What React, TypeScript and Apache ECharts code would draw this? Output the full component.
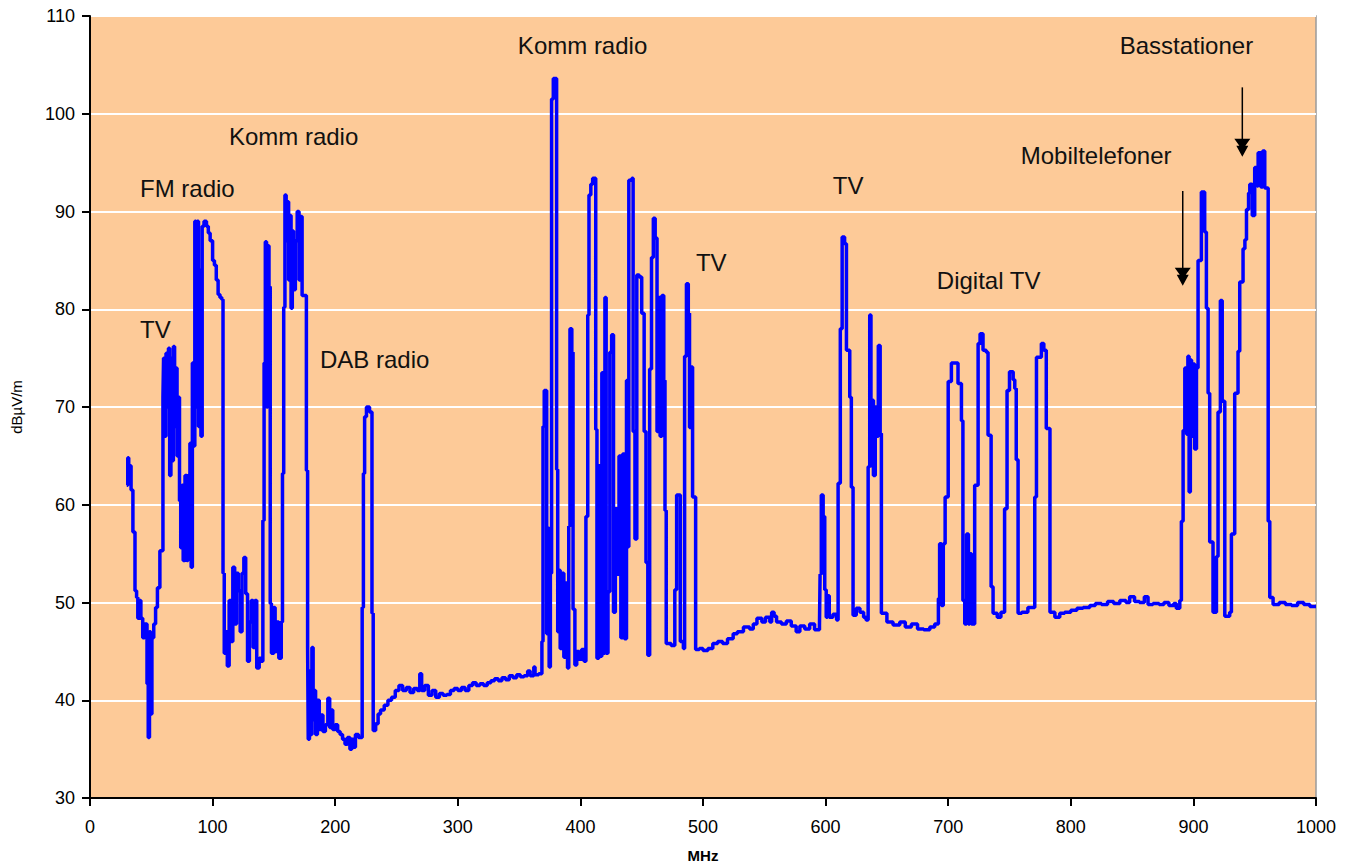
import React, { useEffect, useRef } from "react";
import * as echarts from "echarts";

// Frequency (MHz) / field strength (dBµV/m) pairs, by band
const vhfLow: [number, number][] = [
  [30, 62], [30.8, 64.8], [31.6, 63], [32.5, 64], [33.5, 61.5], [35, 57.2], [36.7, 51.2], [38, 50.5],
  [39, 48.4], [40.5, 50.2], [41.5, 48.4], [43, 46.4], [44.5, 47.8], [45.7, 47.8], [46.5, 41.7],
  [47.5, 36.2], [48.5, 47], [49.5, 38.6], [50.5, 46.4], [52, 47.8], [53.5, 49.5], [55, 51.5],
  [57, 55.3], [58.5, 55.3], [59.5, 71], [60, 75], [61, 67], [62, 75.5], [63, 70], [64, 76], [65, 63],
  [66, 75], [67, 64.5], [68, 76.2], [69, 68], [70, 74], [71, 65], [72, 71], [73, 60.4], [74, 55.6],
  [75, 62], [76, 54.3], [77.5, 63], [79, 54.3], [80, 63], [81.5, 66.3], [82.5, 53.6], [83.5, 74.5],
  [84.5, 66], [85.5, 89], [86.5, 70], [87.5, 89], [88.5, 68], [89.5, 84], [90.5, 67], [91.5, 88.5],
  [93, 89], [95, 88.5], [96.5, 87.8], [98, 87], [100, 85], [101.5, 84.5], [103, 83], [104.5, 81.5],
  [106, 81.2], [107.5, 81], [108.5, 53], [109.5, 44.8], [111, 47], [112, 43.5], [113.5, 50.2],
  [115, 46], [116.5, 53.6], [118, 47.8], [119.5, 53], [121, 51.2], [122.5, 47], [124, 53],
  [125.5, 54.6], [127, 50.9], [128.5, 44], [130, 48], [131.5, 50.2], [133, 45.4], [134.5, 50.2],
  [136, 43.3], [138, 44.3], [140, 44], [141, 58.4], [142, 74.5], [143, 86.9], [144, 70], [145, 86.5],
  [146, 82.3], [147, 49.9], [148, 44.8], [150, 49.5], [151, 45], [152.5, 48], [154, 44.3], [156, 48],
  [157, 63.2], [158, 80.2], [159, 91.7], [160, 87], [161, 91], [162, 83], [163, 89.6], [164, 80.1],
  [165, 88], [166, 82], [167.5, 87], [169, 90], [170.5, 83], [172, 89.5], [173, 81.4], [175, 81.4],
  [176.5, 63.5], [177.5, 45.4],
];

const dabBand: [number, number][] = [
  [178, 36], [179, 43], [180, 36.5], [181, 45.4], [182, 38], [183, 41], [184, 36.5], [185.5, 40],
  [187, 37], [188.5, 38.5], [190, 36.8], [192, 37.5], [194, 40.2], [195.5, 37.2], [197, 39], [198, 37],
  [200, 37.5], [202, 36.8], [204, 36.5], [206, 36], [208, 35.5], [210, 36.2], [212, 35], [213.5, 36],
  [215, 35.2], [216.5, 36.5], [219, 36.2], [222, 49.5], [223, 63.2], [224, 69], [225.5, 70],
  [228, 69.5], [230, 48.9], [231, 36.9], [233, 37.6], [235, 38.6], [237, 39], [240, 39.5], [243, 40],
  [246, 40.3], [249, 41], [252, 41.5], [255, 41], [258, 41.3], [261, 40.8], [264, 41.2], [267, 41],
  [269, 42.7], [270.5, 41], [273, 41.5], [276, 40.5], [279, 41], [282, 40.3], [285, 40.7], [288, 40.5],
  [291, 40.6], [294, 41], [297, 41.2], [300, 41], [303, 41.3], [306, 41], [309, 41.5], [312, 41.8],
  [315, 41.5], [318, 41.7], [321, 41.5], [324, 41.8], [327, 42], [330, 42.2], [333, 42], [336, 42.3],
  [339, 42.1], [342, 42.5], [345, 42.3], [348, 42.6], [351, 42.4], [354, 42.5], [357, 43], [359, 42.5],
  [362, 43.4], [363, 42.6], [366, 42.7],
];

const kommBand: [number, number][] = [
  [368.6, 46], [369.5, 68], [370.5, 71.7], [372.5, 46.8], [373.5, 57.6], [374.5, 43.4], [375.5, 53],
  [376.5, 101.5], [377.9, 103.6], [380.6, 63.6], [381.5, 47], [382.5, 53.3], [383.5, 45.3], [385, 53],
  [386.5, 44.4], [388, 52], [389.5, 43.3], [390.5, 57.8], [391.5, 78], [393, 75.6], [394, 49.3],
  [395.5, 43.6], [397, 45], [399, 44.2], [401, 45.2], [403, 44], [404.5, 58.8], [406, 79.4],
  [407, 91.7], [408.5, 92.8], [410, 93.4], [412.5, 67.7], [413.5, 44.3], [415, 64], [416, 44.5],
  [417.5, 73.5], [419, 44.8], [420, 81.2], [421, 44.8], [422.5, 51.1], [424, 75.6], [425.5, 77.4],
  [427, 49], [428.5, 59.6], [430, 52.9], [431.5, 65], [433, 46.4], [434.5, 65.2], [436, 46.3],
  [437.6, 72.7], [438.5, 55.7], [439.5, 93.2], [442, 93.4], [443, 67.5], [444.5, 56.5], [446, 83.5],
  [448, 83.3], [450, 79.6], [452, 67.5], [453.5, 54.1], [455, 44.6], [456.5, 73.9], [458, 85.3],
  [459.5, 89.3], [461, 87.3], [462.5, 67.5], [463.5, 81.2], [465, 67], [466.5, 81.4], [468, 72.7],
  [469, 59.4], [470, 45.8], [474, 45.6], [477, 51.3], [478.5, 61], [480, 61], [481.5, 46], [484, 45.3],
  [485, 75.2], [486.5, 82.6], [488, 79.6], [489, 67.9], [490, 74.1], [491.5, 60.8], [494, 45.2],
];

const uhfBand: [number, number][] = [
  [497, 45.3], [500, 45.1], [504, 45.3], [508, 45.8], [512, 46], [516, 45.8], [520, 46.3], [524.6, 46.8],
  [528, 47], [533, 47.5], [538, 47.3], [541, 47.8], [544, 48.4], [548, 48], [551, 48.5], [554.5, 48],
  [556, 49], [558, 48.6], [560, 48], [564, 47.8], [568, 48.1], [572, 47.6], [576, 47], [579, 47.6],
  [583, 47.3], [587, 47.8], [591, 47.2], [595, 47.6], [595.5, 52.9], [596.5, 61], [598, 58.8],
  [599.3, 51.3], [600.5, 48.5], [601.5, 50.7], [603, 48.5], [606, 48.8], [609, 48.2], [610.2, 62.2],
  [612, 78], [613.5, 87.4], [615.5, 86.7], [617, 75.8], [619.7, 71], [621, 61.8], [622.4, 48.7],
  [625, 49.4], [628, 49], [631, 48.5], [633, 48.2], [634.7, 63.9], [636, 79.4], [637, 64], [638, 70.7],
  [639, 63], [640.5, 70], [641.5, 67], [643, 76.3], [644.5, 67.3], [645.5, 48.9], [650, 48],
  [655, 47.7], [660.5, 48], [665, 47.5], [670, 47.8], [675, 47.3], [680, 47.2], [685, 47.5],
  [689, 47.8], [692, 50.4], [693, 56], [694.5, 49.7], [696, 56], [697.5, 60.8], [700, 72.6],
  [702.6, 74.5], [708, 72.4], [710.8, 68.6], [712, 50.2], [713.5, 47.8], [715, 57], [716.5, 47.8],
  [717.6, 55], [719, 47.8], [721.6, 62], [724.4, 76.5], [726, 77.5], [728.4, 75.8], [731, 75.6],
  [732.5, 67.1], [735, 51.6], [736.6, 48.9], [740, 48.5], [743, 49], [746, 59.6], [748, 71.7],
  [750, 73.6], [753, 72.8], [754.3, 71.9], [755.5, 64.6], [757, 48.9], [760, 49], [765, 49.5],
  [770.6, 60.8], [772, 75.1], [776, 76.5], [778, 75.8], [780, 67.8], [783, 49], [787, 48.5],
  [791, 48.9], [795, 49], [800, 49.2], [805, 49.4], [810, 49.5], [815.5, 49.7], [820, 49.9],
  [825, 49.8], [830, 50.1], [835, 49.9], [840, 50.2], [845, 50], [848, 50.6], [852, 50.1], [856, 50],
  [860, 50.6], [863, 49.8], [867, 49.9], [872, 49.8], [876, 50], [880, 49.7], [884, 49.9], [886, 49.4],
];

const mobileBand: [number, number][] = [
  [888.9, 50.2], [890.2, 58.3], [891.6, 67.6], [893, 74], [894.5, 67.2], [895.5, 75.2], [896.5, 61.3],
  [897.5, 74.8], [898.5, 67], [899.7, 74.4], [901, 65.7], [902.5, 74], [903.8, 85], [906.5, 92],
  [909.2, 87.9], [910.6, 80.1], [912, 71.4], [913.3, 56.2], [916, 49], [918.8, 54.7], [920.1, 69.5],
  [922, 80.9], [923.5, 70.6], [925.6, 48.6], [929.6, 49], [931, 57], [933.7, 71.4], [936.4, 75.7],
  [937.8, 82.8], [940.5, 86.2], [942, 87.1], [943.3, 90.2], [945, 91.9], [946, 92.8], [948, 89.6],
  [950, 94.5], [952, 92.6], [952.8, 96], [955, 92.5], [956.5, 96.2], [958.2, 92.4], [961, 58.3],
  [962.3, 50.5], [965, 49.8], [970, 50], [975, 49.8], [980, 49.7], [985, 50], [990, 49.8],
  [995, 49.6], [1000, 49.6],
];

const xTicks = { min: 0, max: 1000, interval: 100 };
const yTicks = { min: 30, max: 110, interval: 10 };

// Annotation texts and arrows (in data units: MHz, dBµV/m)
const annotations: { text: string; f: number; db: number }[] = [
  { text: "TV", f: 40.8, db: 77.9 },
  { text: "FM radio", f: 40.8, db: 92.4 },
  { text: "Komm radio", f: 113.3, db: 97.7 },
  { text: "DAB radio", f: 187.6, db: 74.9 },
  { text: "Komm radio", f: 349, db: 107 },
  { text: "TV", f: 494.2, db: 84.8 },
  { text: "TV", f: 605.9, db: 92.7 },
  { text: "Digital TV", f: 690.7, db: 82.9 },
  { text: "Mobiltelefoner", f: 759.2, db: 95.7 },
  { text: "Basstationer", f: 839.9, db: 107 },
];
const arrows: { f: number; from: number; to: number }[] = [
  { f: 891.3, from: 92.1, to: 82.4 },
  { f: 939.9, from: 102.7, to: 95.6 },
];

const FONT = "'Liberation Sans', Arial, Helvetica, sans-serif";

export default function App() {
  const ref = useRef<HTMLDivElement>(null);
  useEffect(() => {
    if (!ref.current) return;
    const chart = echarts.init(ref.current, undefined, { renderer: "svg" });
    const data = [...vhfLow, ...dabBand, ...kommBand, ...uhfBand, ...mobileBand];
    chart.setOption({
      animation: false,
      backgroundColor: "#ffffff",
      grid: {
        left: 90,
        right: 37,
        top: 16,
        bottom: 70,
        outerBoundsMode: "none",
        containLabel: false,
        show: true,
        backgroundColor: "#FDCA98",
        borderColor: "#9a9a9a",
        borderWidth: 1.5,
      },
      xAxis: {
        type: "value",
        ...xTicks,
        name: "MHz",
        nameLocation: "middle",
        nameGap: 50,
        nameTextStyle: { fontFamily: FONT, fontSize: 15, fontWeight: "bold", color: "#000" },
        axisLine: { show: true, onZero: false, lineStyle: { color: "#000", width: 2 } },
        axisTick: { show: true, inside: false, length: 8, lineStyle: { color: "#000", width: 2 } },
        axisLabel: {
          fontFamily: FONT,
          fontSize: 18,
          color: "#000",
          margin: 20,
          formatter: (v: number) => String(v),
        },
        splitLine: { show: false },
      },
      yAxis: {
        type: "value",
        ...yTicks,
        name: "dBµV/m",
        nameLocation: "middle",
        nameRotate: 90,
        nameGap: 66,
        nameTextStyle: { fontFamily: FONT, fontSize: 15, color: "#000" },
        axisLine: { show: true, onZero: false, lineStyle: { color: "#000", width: 2 } },
        axisTick: { show: true, inside: false, length: 8, lineStyle: { color: "#000", width: 2 } },
        axisLabel: {
          fontFamily: FONT,
          fontSize: 18,
          color: "#000",
          margin: 15,
          formatter: (v: number) => String(v),
        },
        splitLine: { show: true, lineStyle: { color: "#ffffff", width: 2 } },
      },
      series: [
        {
          type: "line",
          step: "end",
          data,
          showSymbol: false,
          symbol: "none",
          lineStyle: { color: "#0000FF", width: 3.5 },
          z: 3,
        },
      ],
    });

    const graphics: any[] = [];
    annotations.forEach((a) => {
      const p = chart.convertToPixel({ gridIndex: 0 }, [a.f, a.db]) as number[];
      graphics.push({
        type: "text",
        x: p[0],
        y: p[1],
        z: 10,
        style: {
          text: a.text,
          fill: "#111",
          font: `24px ${FONT}`,
          textAlign: "left",
          textVerticalAlign: "middle",
          align: "left",
          verticalAlign: "middle",
        },
      });
    });
    arrows.forEach((a) => {
      const p1 = chart.convertToPixel({ gridIndex: 0 }, [a.f, a.from]) as number[];
      const p2 = chart.convertToPixel({ gridIndex: 0 }, [a.f, a.to]) as number[];
      const x = p1[0];
      const headTop = p2[1] - 18;
      graphics.push({
        type: "line",
        z: 10,
        shape: { x1: x, y1: p1[1], x2: x, y2: headTop + 4 },
        style: { stroke: "#000", lineWidth: 1.5 },
      });
      graphics.push({
        type: "polygon",
        z: 10,
        shape: {
          points: [
            [x - 8, headTop],
            [x + 8, headTop],
            [x + 3, headTop + 7],
            [x + 6, headTop + 7],
            [x, p2[1]],
            [x - 6, headTop + 7],
            [x - 3, headTop + 7],
          ],
        },
        style: { fill: "#000" },
      });
    });
    chart.setOption({ graphic: graphics });

    return () => chart.dispose();
  }, []);
  return (
    <div
      ref={ref}
      style={{ position: "fixed", left: 0, top: 0, width: "1353px", height: "868px" }}
    />
  );
}
